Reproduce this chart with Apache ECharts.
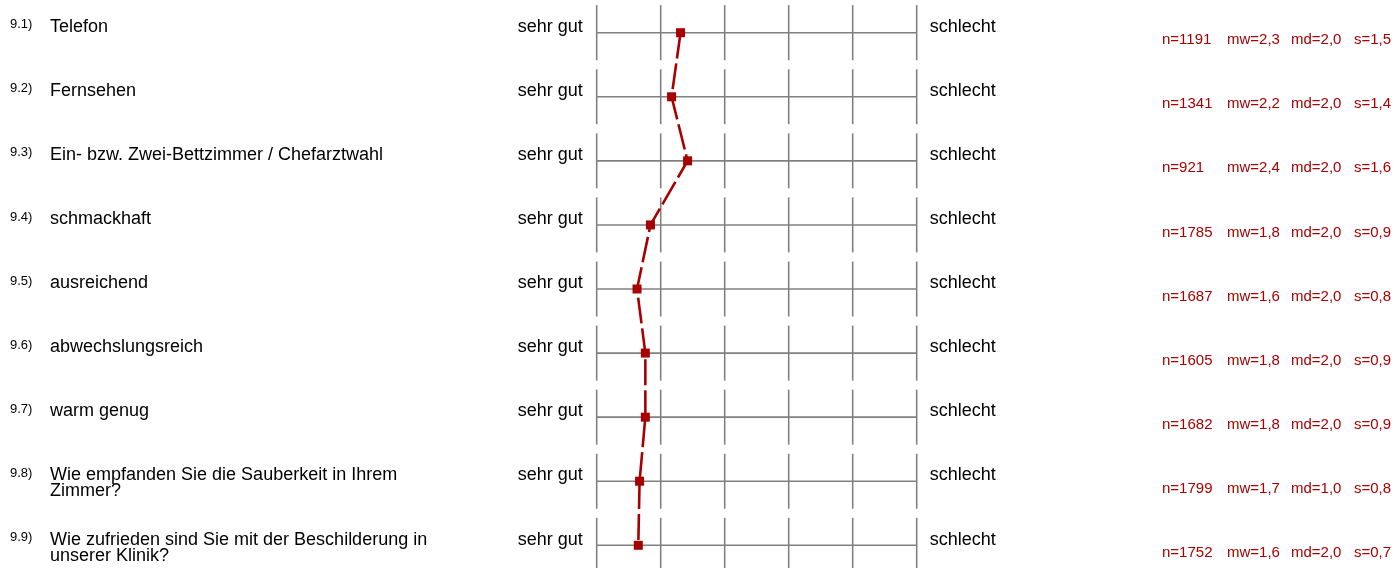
<!DOCTYPE html>
<html>
<head>
<meta charset="utf-8">
<script src="https://cdn.jsdelivr.net/npm/echarts@6/dist/echarts.min.js"></script>
<style>
  html, body { margin: 0; padding: 0; background: #fff; }
  #chart { width: 1396px; height: 568px; }
</style>
</head>
<body>
<div id="chart"></div>
<script>
// Fragen
const numbers = ['9.1)', '9.2)', '9.3)', '9.4)', '9.5)', '9.6)', '9.7)', '9.8)', '9.9)'];
const questions = [
  'Telefon',
  'Fernsehen',
  'Ein- bzw. Zwei-Bettzimmer / Chefarztwahl',
  'schmackhaft',
  'ausreichend',
  'abwechslungsreich',
  'warm genug',
  'Wie empfanden Sie die Sauberkeit in Ihrem\nZimmer?',
  'Wie zufrieden sind Sie mit der Beschilderung in\nunserer Klinik?'
];
// Mittelwerte (Position der Marker)
const means = [2.31, 2.17, 2.42, 1.84, 1.63, 1.76, 1.76, 1.67, 1.65];
// Statistik rechts
const nValues = ['n=1191', 'n=1341', 'n=921', 'n=1785', 'n=1687', 'n=1605', 'n=1682', 'n=1799', 'n=1752'];
const mwValues = ['mw=2,3', 'mw=2,2', 'mw=2,4', 'mw=1,8', 'mw=1,6', 'mw=1,8', 'mw=1,8', 'mw=1,7', 'mw=1,6'];
const mdValues = ['md=2,0', 'md=2,0', 'md=2,0', 'md=2,0', 'md=2,0', 'md=2,0', 'md=2,0', 'md=1,0', 'md=2,0'];
const sValues = ['s=1,5', 's=1,4', 's=1,6', 's=0,9', 's=0,8', 's=0,9', 's=0,9', 's=0,8', 's=0,7'];
const scaleTicks = [1, 2, 3, 4, 5, 6];
const leftLabel = 'sehr gut';
const rightLabel = 'schlecht';

const font = '"Liberation Sans", Arial, sans-serif';
const gridColor = '#808080';
const red = '#a80000';

const chart = echarts.init(document.getElementById('chart'));

const renderRow = (params, api) => {
  const i = params.dataIndex;
  const row = api.value(0);
  const start = api.coord([scaleTicks[0], row]);
  const end = api.coord([scaleTicks[scaleTicks.length - 1], row]);
  const y = start[1];
  const children = [];

  children.push({
    type: 'line',
    shape: { x1: start[0], y1: y, x2: end[0], y2: y },
    style: { stroke: gridColor, lineWidth: 1.6 }
  });
  scaleTicks.forEach(t => {
    const p = api.coord([t, row]);
    children.push({
      type: 'line',
      shape: { x1: p[0], y1: y - 27.5, x2: p[0], y2: y + 27.5 },
      style: { stroke: gridColor, lineWidth: 1.6 }
    });
  });

  // Nummer + Frage
  children.push({
    type: 'text',
    style: { x: 10, y: y - 8, text: numbers[i], fill: '#000', font: '13px ' + font, verticalAlign: 'middle' }
  });
  children.push({
    type: 'text',
    style: { x: 50, y: y - 13.7, text: questions[i], fill: '#000', font: '18px ' + font, lineHeight: 16, verticalAlign: 'top' }
  });

  // Skalenbeschriftung
  children.push({
    type: 'text',
    style: { x: start[0] - 14, y: y - 5.7, text: leftLabel, fill: '#000', font: '18px ' + font, align: 'right', verticalAlign: 'middle' }
  });
  children.push({
    type: 'text',
    style: { x: end[0] + 13, y: y - 5.7, text: rightLabel, fill: '#000', font: '18px ' + font, align: 'left', verticalAlign: 'middle' }
  });

  // Statistik
  const cols = [[1162, nValues], [1227, mwValues], [1291, mdValues], [1354, sValues]];
  cols.forEach(([x, arr]) => {
    children.push({
      type: 'text',
      style: { x: x, y: y + 7.5, text: arr[i], fill: red, font: '15px ' + font, verticalAlign: 'middle' }
    });
  });

  return { type: 'group', children: children };
};

const option = {
  backgroundColor: '#fff',
  animation: false,
  grid: { left: 596.7, right: 479.3, top: 32.7, bottom: 22.7 },
  xAxis: {
    type: 'value', min: 1, max: 6, show: false
  },
  yAxis: {
    type: 'value', min: 0, max: 8, inverse: true, show: false
  },
  series: [
    {
      type: 'custom',
      clip: false,
      silent: true,
      z: 1,
      renderItem: renderRow,
      encode: { y: 0 },
      data: questions.map((q, i) => [i])
    },
    {
      type: 'line',
      z: 5,
      data: means.map((m, i) => [m, i]),
      symbol: 'rect',
      symbolSize: 9,
      itemStyle: { color: red },
      lineStyle: { color: red, width: 2.6, type: [26, 5] }
    }
  ]
};

chart.setOption(option);
</script>
</body>
</html>
